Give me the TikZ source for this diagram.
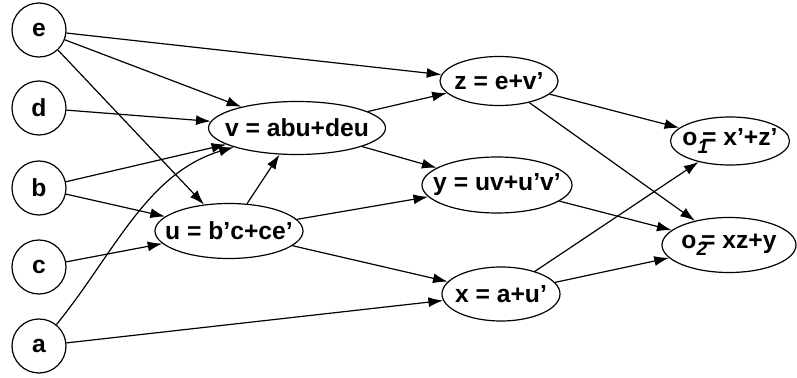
\documentclass[tikz,border=0pt]{standalone}
\usepackage{fontspec}
\setmainfont{Liberation Sans}
\usetikzlibrary{shapes.geometric,arrows.meta}

\tikzset{
	every picture/.style={line width=0.9pt},
	gatefont/.style={font=\fontsize{18.5}{20}\selectfont\bfseries},
	input/.style={draw, circle, gatefont, inner sep=0pt, minimum size=40.5pt},
	gate/.style={draw, ellipse, gatefont, inner sep=0pt},
	wire/.style={-{Latex[length=11pt,width=7.5pt]}}}
% label of zero width, so the ellipse keeps its own size
\newcommand{\glabel}[1]{\makebox[0pt]{#1}}
% subscript that runs under the equals sign
\newcommand{\osub}[1]{o\raisebox{-0.55ex}{\fontsize{14.5}{14}\selectfont\itshape #1}\kern-0.25em}

\begin{document}
\begin{tikzpicture}[x=0.75pt,y=0.75pt,yscale=-1,xscale=1]
	\useasboundingbox (0,0) rectangle (797,378);

	%Inputs
	\node [input] (e) at (39,30) {e};
	\node [input] (d) at (39,108) {d};
	\node [input] (b) at (39,188) {b};
	\node [input] (c) at (39,267) {c};
	\node [input] (a) at (39,346) {a};

	%First level
	\node [gate, minimum width=132.75pt, minimum height=39.75pt] (v) at (297,128) {\glabel{v = abu+deu}};
	\node [gate, minimum width=111pt, minimum height=41.25pt] (u) at (229,231) {\glabel{u = b'c+ce'}};

	%Second level
	\node [gate, minimum width=88.5pt, minimum height=36.75pt] (z) at (499,81) {\glabel{z = e+v'}};
	\node [gate, minimum width=112.5pt, minimum height=42pt] (y) at (497,185) {\glabel{y = uv+u'v'}};
	\node [gate, minimum width=88.5pt, minimum height=40.5pt] (x) at (501,294) {\glabel{x = a+u'}};

	%Outputs
	\node [gate, minimum width=89.25pt, minimum height=36pt] (o1) at (730,141) {\glabel{\osub{1}= x'+z'}};
	\node [gate, minimum width=100.5pt, minimum height=41.25pt] (o2) at (729,245) {\glabel{\osub{2}= xz+y}};

	%Wires
	\draw [wire] (e) -- (z);
	\draw [wire] (e) -- (v);
	\draw [wire] (e) -- (u);
	\draw [wire] (d) -- (v);
	\draw [wire] (b) -- (v);
	\draw [wire] (b) -- (u);
	\draw [wire] (c) -- (u);
	\draw [wire] (a) to[out=-62, in=148] (v);
	\draw [wire] (a) -- (x);
	\draw [wire] (u) -- (v);
	\draw [wire] (u) -- (y);
	\draw [wire] (u) -- (x);
	\draw [wire] (v) -- (z);
	\draw [wire] (v) -- (y);
	\draw [wire] (z) -- (o1);
	\draw [wire] (z) -- (o2);
	\draw [wire] (y) -- (o2);
	\draw [wire] (x) -- (o1);
	\draw [wire] (x) -- (o2);

\end{tikzpicture}
\end{document}
